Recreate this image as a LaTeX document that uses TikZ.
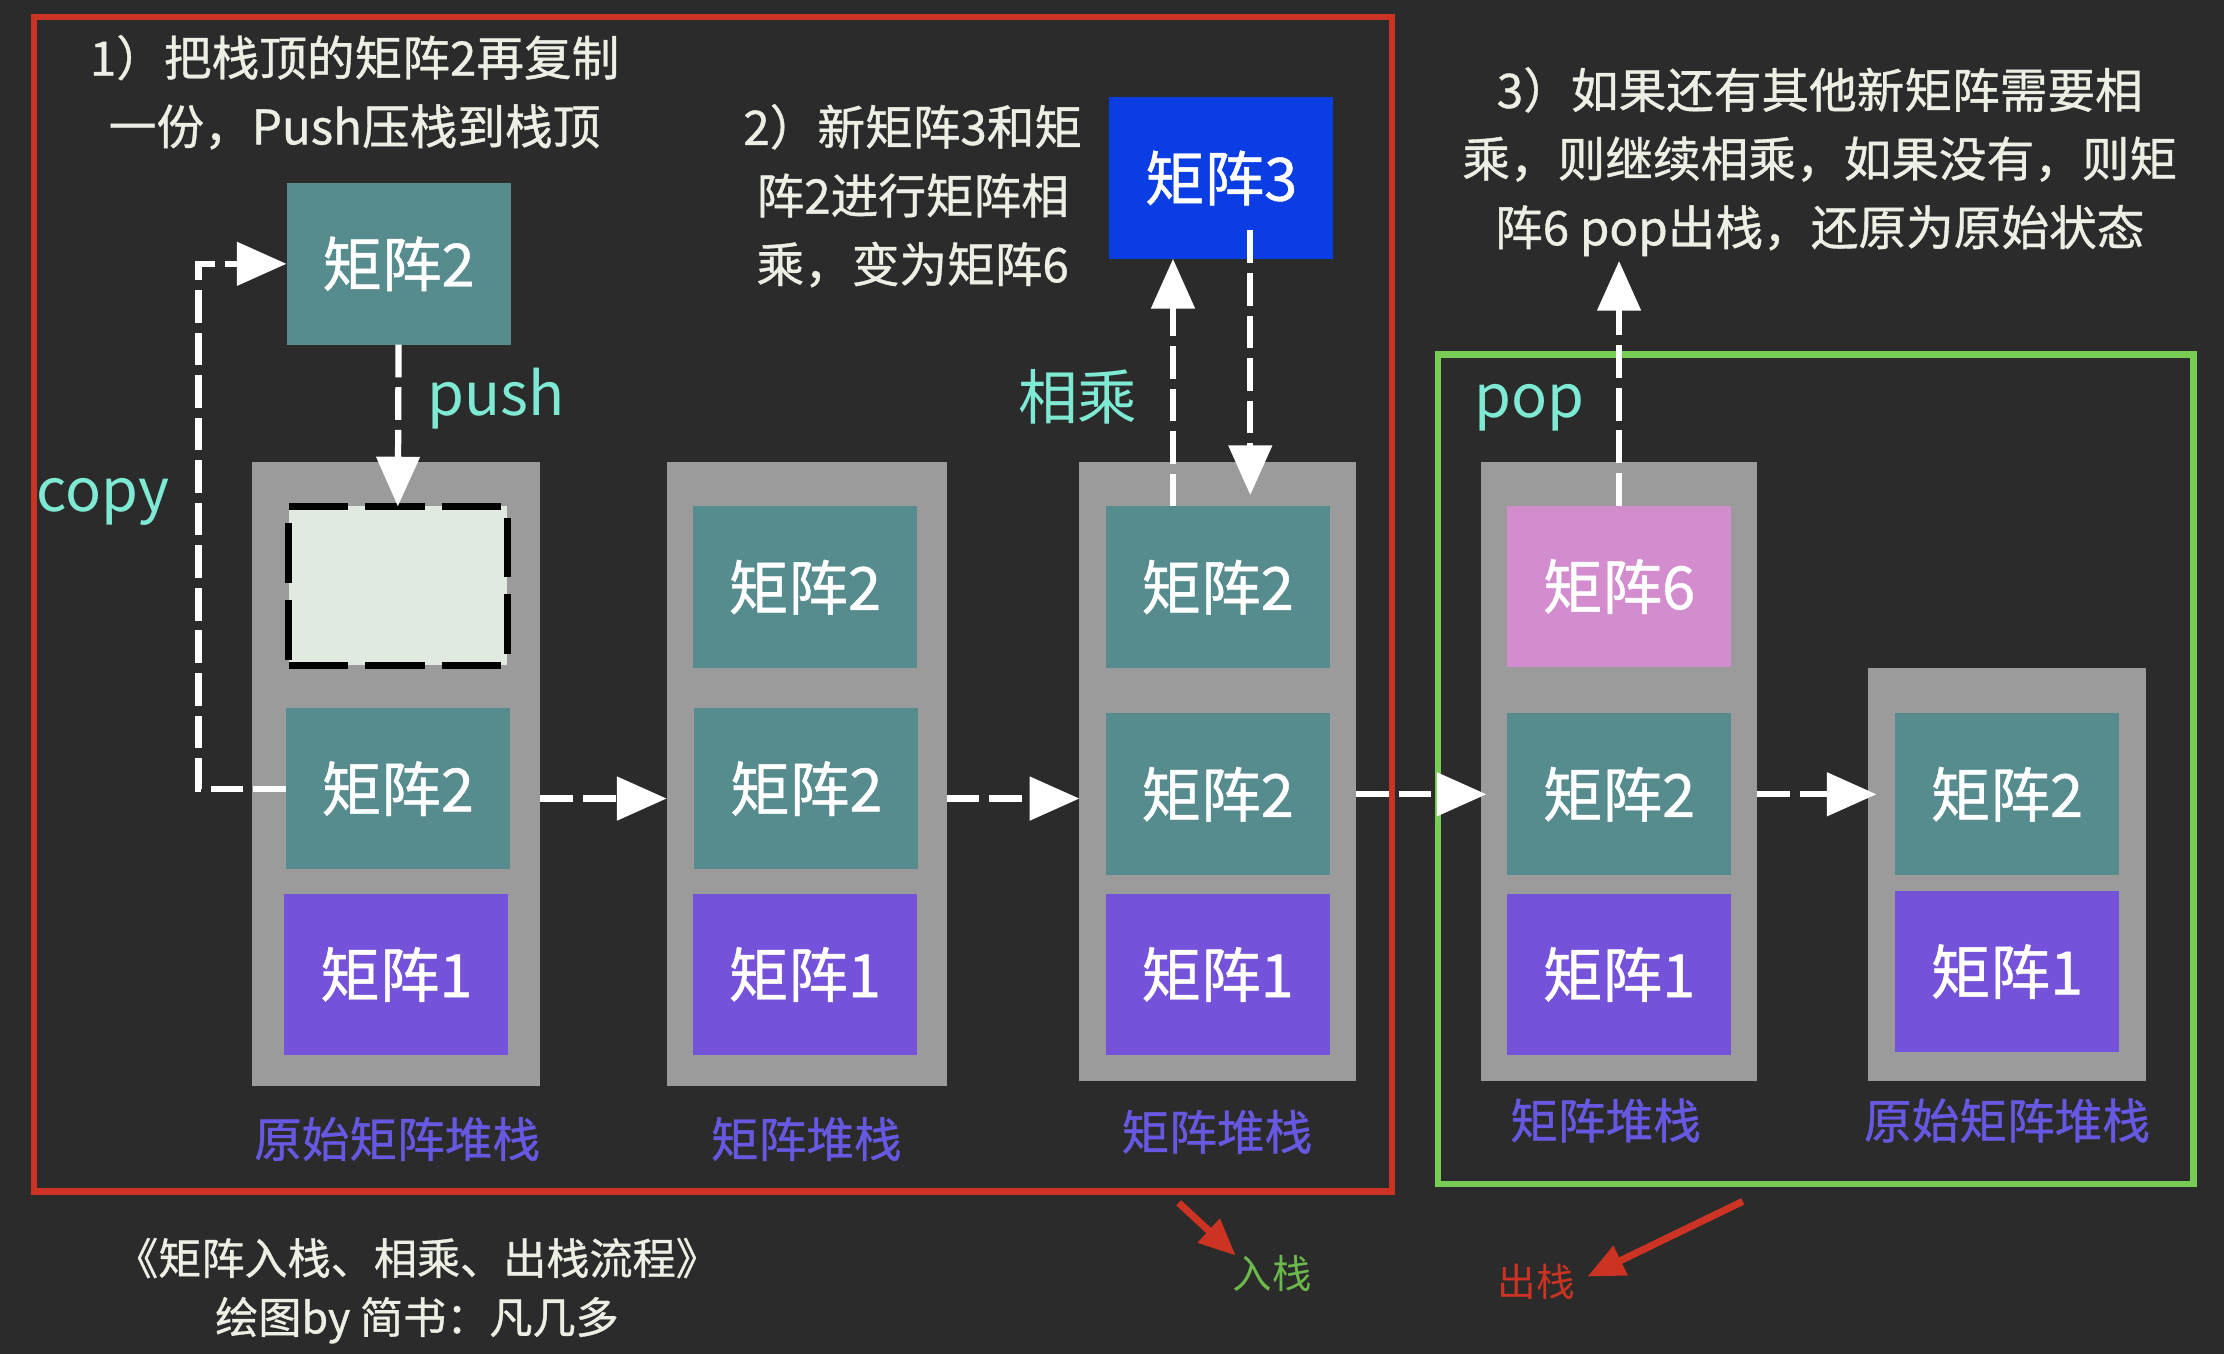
\documentclass[tikz,border=0pt]{standalone}
\usepackage{fontspec}
\newfontfamily\cjk[FakeBold=0.8]{Noto Sans CJK SC}
\newfontfamily\cjkl{Noto Sans CJK SC}
\usetikzlibrary{arrows.meta}
\definecolor{bg}{HTML}{2B2B2B}
\definecolor{tealm}{HTML}{578C8E}
\definecolor{purpm}{HTML}{7453DA}
\definecolor{pinkm}{HTML}{D38DCE}
\definecolor{bluem}{HTML}{0B3DE4}
\definecolor{stackgray}{HTML}{9B9B9B}
\definecolor{lblc}{HTML}{6658E0}
\definecolor{aquac}{HTML}{7EEAD3}
\definecolor{txtc}{HTML}{ECF0E4}
\definecolor{redb}{HTML}{CC3322}
\definecolor{greenb}{HTML}{77CC55}
\definecolor{emptyf}{HTML}{E1EAE1}
\begin{document}
\begin{tikzpicture}[x=0.5pt,y=-0.5pt,
  every node/.style={inner sep=0pt, outer sep=0pt},
  mat/.style={minimum width=79pt, minimum height=57pt, text=white, font=\cjk\fontsize{21pt}{25pt}\selectfont},
  mtwo/.style={mat, fill=tealm},
  mone/.style={mat, fill=purpm},
  stk/.style={fill=stackgray},
  lab/.style={text=lblc, font=\cjk\fontsize{16.8pt}{20pt}\selectfont},
  note/.style={text=txtc, align=center, font=\cjk\fontsize{16.8pt}{24.2pt}\selectfont},
  op/.style={text=aquac, font=\cjkl\fontsize{21pt}{25pt}\selectfont},
  flow/.style={draw=white, line width=2.2pt, dash pattern=on 11.5pt off 3.5pt, -{Triangle[length=17.5pt,width=15pt]}},
  redarrow/.style={draw=redb, line width=2.5pt, -{Triangle[length=13pt,width=11pt]}}
]
\fill[bg] (0,0) rectangle (1568,954.6);
\useasboundingbox (0,0) rectangle (1568,954.6);

% frames
\draw[redb, line width=2.3pt] (24,12) rectangle (981.5,840);
\draw[greenb, line width=2.2pt] (1014,250) rectangle (1546.5,834.5);

% stack 1
\node[stk, minimum width=101.5pt, minimum height=220pt] (g1) at (279.5,546) {};
\node[minimum width=77pt, minimum height=56pt, fill=emptyf, draw=black, line width=2.5pt, dash pattern=on 21pt off 6pt] (s1e) at (280.5,413) {};
\node[mtwo] (s1b) at (280.5,556) {矩阵2};
\node[mone] (s1a) at (279.5,687) {矩阵1};
\node[lab] (l1) at (280,803) {原始矩阵堆栈};

% stack 2
\node[stk, minimum width=98.75pt, minimum height=220pt] (g2) at (568.75,546) {};
\node[mtwo] (s2c) at (567.5,414) {矩阵2};
\node[mtwo] (s2b) at (568.5,556) {矩阵2};
\node[mone] (s2a) at (567.5,687) {矩阵1};
\node[lab] (l2) at (568.5,803) {矩阵堆栈};

% stack 3
\node[stk, minimum width=97.5pt, minimum height=218pt] (g3) at (858.5,544) {};
\node[mtwo] (s3c) at (858.5,414) {矩阵2};
\node[mtwo] (s3b) at (858.5,560) {矩阵2};
\node[mone] (s3a) at (858.5,687) {矩阵1};
\node[lab] (l3) at (858,798) {矩阵堆栈};

% stack 4
\node[stk, minimum width=97.5pt, minimum height=218pt] (g4) at (1141.5,544) {};
\node[mat, fill=pinkm] (s4c) at (1141.5,413.5) {矩阵6};
\node[mtwo] (s4b) at (1141.5,560) {矩阵2};
\node[mone] (s4a) at (1141.5,687) {矩阵1};
\node[lab] (l4) at (1132,790) {矩阵堆栈};

% stack 5
\node[stk, minimum width=98pt, minimum height=145.5pt] (g5) at (1415,616.5) {};
\node[mtwo] (s5b) at (1415,560) {矩阵2};
\node[mone] (s5a) at (1415,685) {矩阵1};
\node[lab] (l5) at (1415,790) {原始矩阵堆栈};

% floating boxes
\node[mtwo] (fl) at (281,186) {矩阵2};
\node[mat, fill=bluem] (m3) at (861,125.5) {矩阵3};

% notes
\node[note] (t1) at (250,65) {1）把栈顶的矩阵2再复制\\一份，Push压栈到栈顶};
\node[note] (t2) at (643.5,138) {2）新矩阵3和矩\\阵2进行矩阵相\\乘，变为矩阵6};
\node[note] (t3) at (1283,114) {3）如果还有其他新矩阵需要相\\乘，则继续相乘，如果没有，则矩\\阵6 pop出栈，还原为原始状态};

% operation labels
\node[op, anchor=base] (cp) at (72.5,360.5) {copy};
\node[op, anchor=base] (ps) at (350,293) {push};
\node[op] (mu) at (760,280) {相乘};
\node[op, anchor=base] (pp) at (1078.5,294) {pop};

% copy and push arrows
\coordinate (cpx) at (140,0);
\draw[flow] (s1b.west) -- (s1b.west -| cpx) |- (fl.west);
\draw[flow] (fl.south) -- (s1e.north);

% horizontal arrows
\coordinate (h1) at ([yshift=-3.5pt]s1b.center);
\draw[flow] (g1.east |- h1) -- (g2.west |- h1);
\draw[flow] (g2.east |- h1) -- (g3.west |- h1);
\draw[flow] (g3.east |- s3b) -- ([xshift=2pt]g4.west |- s3b);
\draw[flow] (g4.east |- s4b) -- ([xshift=3pt]g5.west |- s4b);

% multiply arrows
\coordinate (u1) at ([xshift=-15.75pt]s3c.north);
\draw[flow] (u1) -- (u1 |- m3.south);
\coordinate (d1) at ([xshift=11.5pt]s3c.north);
\coordinate (d0) at (d1 |- m3.south);
\draw[flow] ([yshift=10pt]d0) -- ([yshift=4pt]d1);

% pop arrow
\coordinate (popend) at (1141.5,184);
\draw[flow] (s4c.north) -- (s4c.north |- popend);

% bottom labels
\node[text=greenb!90!black, font=\cjkl\fontsize{13.9pt}{16pt}\selectfont] (inlab) at (897,898) {入栈};
\node[text=redb, font=\cjkl\fontsize{13.6pt}{16pt}\selectfont] (outlab) at (1083,904) {出栈};
\coordinate (ia) at (831,848);
\coordinate (oa) at (1228.7,847);
\draw[redarrow] (ia) -- ([xshift=1pt]inlab.north west);
\draw[redarrow] (oa) -- ([xshift=4.5pt,yshift=2pt]outlab.east);

% caption
\node[note, font=\cjk\fontsize{15.2pt}{20.8pt}\selectfont] (cap) at (294,910) {《矩阵入栈、相乘、出栈流程》\\绘图by 简书：凡几多};
\end{tikzpicture}
\end{document}
